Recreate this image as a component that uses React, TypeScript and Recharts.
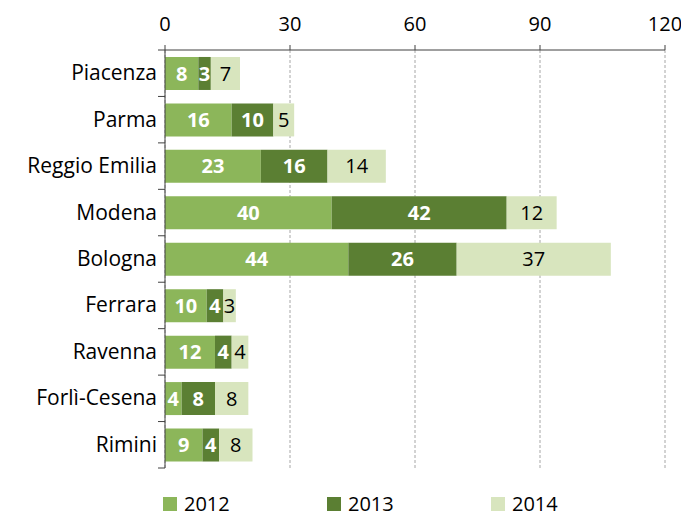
import { BarChart, Bar, XAxis, YAxis, CartesianGrid, Legend, LabelList } from 'recharts';

const cities = ['Piacenza', 'Parma', 'Reggio Emilia', 'Modena', 'Bologna', 'Ferrara', 'Ravenna', 'Forlì-Cesena', 'Rimini'];
const y2012 = [8, 16, 23, 40, 44, 10, 12, 4, 9];
const y2013 = [3, 10, 16, 42, 26, 4, 4, 8, 4];
const y2014 = [7, 5, 14, 12, 37, 3, 4, 8, 8];
const xTicks = [0, 30, 60, 90, 120];

const data = cities.map((name, i) => ({ name, y2012: y2012[i], y2013: y2013[i], y2014: y2014[i] }));

const COLORS = { y2012: '#8CB65A', y2013: '#5B7F33', y2014: '#D8E5BE' };
const FONT = '"Open Sans", "Liberation Sans", sans-serif';

const BAND = 418 / cities.length;

const CityTick = ({ x, y, payload }: any) => (
  <g>
    <line x1={x + 8} x2={x + 1} y1={y - BAND / 2} y2={y - BAND / 2} stroke="#404040" />
    {payload.index === cities.length - 1 && (
      <line x1={x + 8} x2={x + 1} y1={y + BAND / 2} y2={y + BAND / 2} stroke="#404040" />
    )}
    <text x={x} y={y} dy={7} textAnchor="end" fill="#000" fontSize={21} fontFamily={FONT}>
      {payload.value}
    </text>
  </g>
);

const LegendContent = () => (
  <div style={{ display: 'flex', alignItems: 'flex-end', height: 50, paddingLeft: 163, paddingBottom: 4, boxSizing: 'border-box', fontFamily: FONT, fontSize: 20, color: '#000', lineHeight: '20px' }}>
    {(['y2012', 'y2013', 'y2014'] as const).map(k => (
      <div key={k} style={{ display: 'flex', alignItems: 'center', width: 164 }}>
        <span style={{ display: 'inline-block', width: 14, height: 14, background: COLORS[k], marginRight: 7 }} />
        {k.slice(1)}
      </div>
    ))}
  </div>
);

export default function App() {
  return (
    <div style={{ position: 'absolute', left: 0, top: 0, background: '#fff' }}>
      <BarChart
        width={681}
        height={518}
        data={data}
        layout="vertical"
        margin={{ top: 0, right: 16, left: 0, bottom: 0 }}
        barCategoryGap="15%"
      >
        <CartesianGrid horizontal={false} stroke="#A6A6A6" strokeDasharray="3 2" />
        <XAxis
          type="number"
          orientation="top"
          domain={[0, 120]}
          ticks={xTicks}
          height={50}
          tick={{ fill: '#000', fontSize: 20, fontFamily: FONT }}
          tickSize={5}
          tickMargin={14}
          axisLine={{ stroke: '#404040' }}
          tickLine={{ stroke: '#404040' }}
        />
        <YAxis
          type="category"
          dataKey="name"
          width={165}
          axisLine={{ stroke: '#404040' }}
          tickLine={false}
          tick={<CityTick />}
        />
        <Legend verticalAlign="bottom" content={<LegendContent />} />
        <Bar dataKey="y2012" stackId="a" fill={COLORS.y2012} isAnimationActive={false}>
          <LabelList dataKey="y2012" position="center" fill="#fff" fontSize={20} fontWeight="bold" fontFamily={FONT} />
        </Bar>
        <Bar dataKey="y2013" stackId="a" fill={COLORS.y2013} isAnimationActive={false}>
          <LabelList dataKey="y2013" position="center" fill="#fff" fontSize={20} fontWeight="bold" fontFamily={FONT} />
        </Bar>
        <Bar dataKey="y2014" stackId="a" fill={COLORS.y2014} isAnimationActive={false}>
          <LabelList dataKey="y2014" position="center" fill="#000" fontSize={20} fontFamily={FONT} />
        </Bar>
      </BarChart>
    </div>
  );
}
